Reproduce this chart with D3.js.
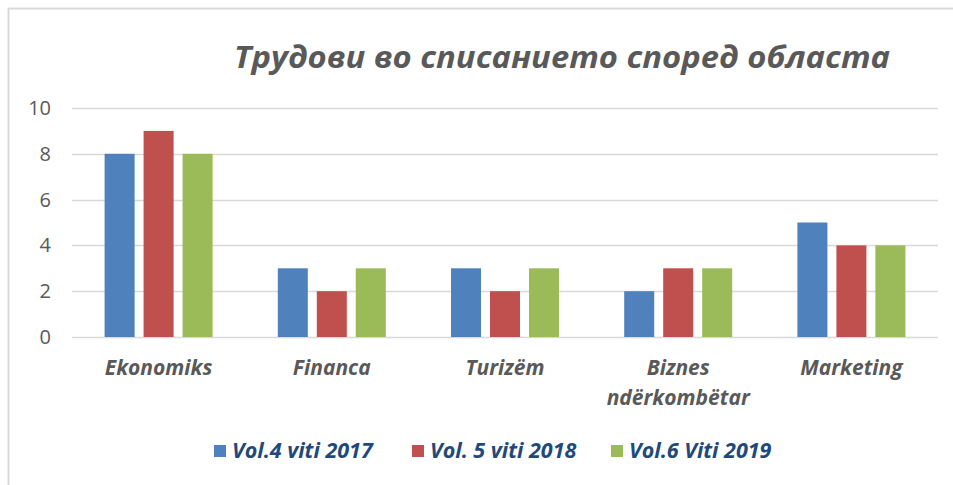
<!DOCTYPE html>
<html>
<head>
<meta charset="utf-8">
<script src="https://cdn.jsdelivr.net/npm/d3@7"></script>
<style>
  body { margin: 0; background: #fff; }
  svg { font-family: "Open Sans", "Noto Sans", sans-serif; }
</style>
</head>
<body>
<div id="chart"></div>
<script>
var categories = ["Ekonomiks", "Financa", "Turizëm", "Biznes ndërkombëtar", "Marketing"];
var seriesNames = ["Vol.4 viti 2017", "Vol. 5 viti 2018", "Vol.6 Viti 2019"];
var vol4 = [8, 3, 3, 2, 5];
var vol5 = [9, 2, 2, 3, 4];
var vol6 = [8, 3, 3, 3, 4];
var yTicks = [0, 2, 4, 6, 8, 10];
var colors = ["#4F81BD", "#C0504D", "#9BBB59"];

var width = 953,
    height = 485;

var series = [vol4, vol5, vol6];

var svg = d3.select("#chart").append("svg")
    .attr("width", width)
    .attr("height", height);

// chart frame
svg.append("path")
    .attr("d", "M8.5,485 L8.5,8.5 L953,8.5")
    .attr("fill", "none")
    .attr("stroke", "#d9d9d9")
    .attr("stroke-width", 2);

svg.append("text")
    .attr("x", 562)
    .attr("y", 68)
    .attr("text-anchor", "middle")
    .attr("font-size", 31)
    .attr("font-weight", "bold")
    .attr("font-style", "italic")
    .attr("fill", "#595959")
    .attr("textLength", 656)
    .attr("lengthAdjust", "spacingAndGlyphs")
    .text("Трудови во списанието според областа");

var x0 = d3.scaleBand()
    .domain(categories)
    .range([72, 938]);

var x1 = d3.scaleBand()
    .domain(d3.range(seriesNames.length))
    .range([0, 108])
    .paddingInner(0.23);

var y = d3.scaleLinear()
    .domain([0, 10])
    .range([337, 108]);

// grid
svg.append("g").selectAll("line")
    .data(yTicks)
    .enter().append("line")
    .attr("x1", 72)
    .attr("x2", 938)
    .attr("y1", function(d) { return Math.round(y(d)) + 0.5; })
    .attr("y2", function(d) { return Math.round(y(d)) + 0.5; })
    .attr("stroke", "#d9d9d9")
    .attr("stroke-width", 1.5);

var yAxis = svg.append("g")
    .attr("transform", "translate(72,0)")
    .call(d3.axisLeft(y).tickValues(yTicks).tickSize(0).tickPadding(21));
yAxis.select(".domain").remove();
yAxis.selectAll("text")
    .attr("font-size", 20)
    .attr("fill", "#595959")
    .attr("font-family", "Open Sans, sans-serif");

var offset = (x0.bandwidth() - 108) / 2;

var groups = svg.append("g").selectAll("g")
    .data(categories)
    .enter().append("g")
    .attr("transform", function(d) { return "translate(" + (x0(d) + offset) + ",0)"; });

groups.selectAll("rect")
    .data(function(d, i) {
        return series.map(function(s, k) { return { k: k, v: s[i] }; });
    })
    .enter().append("rect")
    .attr("x", function(d) { return x1(d.k); })
    .attr("y", function(d) { return y(d.v); })
    .attr("width", x1.bandwidth())
    .attr("height", function(d) { return y(0) - y(d.v); })
    .attr("fill", function(d) { return colors[d.k]; });

// category labels, wrapped like Excel does
var xAxis = svg.append("g");
categories.forEach(function(c) {
    var lines = c === "Biznes ndërkombëtar" ? ["Biznes", "ndërkombëtar"] : [c];
    lines.forEach(function(l, j) {
        xAxis.append("text")
            .attr("x", x0(c) + x0.bandwidth() / 2)
            .attr("y", 375 + j * 30)
            .attr("text-anchor", "middle")
            .attr("font-size", 21)
            .attr("font-weight", "bold")
            .attr("font-style", "italic")
            .attr("fill", "#595959")
            .text(l);
    });
});

// legend
var legendX = [214, 412, 611];
var legend = svg.append("g").selectAll("g")
    .data(seriesNames)
    .enter().append("g")
    .attr("transform", function(d, i) { return "translate(" + legendX[i] + ",445)"; });

legend.append("rect")
    .attr("width", 12)
    .attr("height", 12)
    .attr("fill", function(d, i) { return colors[i]; });

legend.append("text")
    .attr("x", 18)
    .attr("y", 13)
    .attr("font-size", 21.5)
    .attr("font-weight", "bold")
    .attr("font-style", "italic")
    .attr("fill", "#1F497D")
    .text(function(d) { return d; });
</script>
</body>
</html>
